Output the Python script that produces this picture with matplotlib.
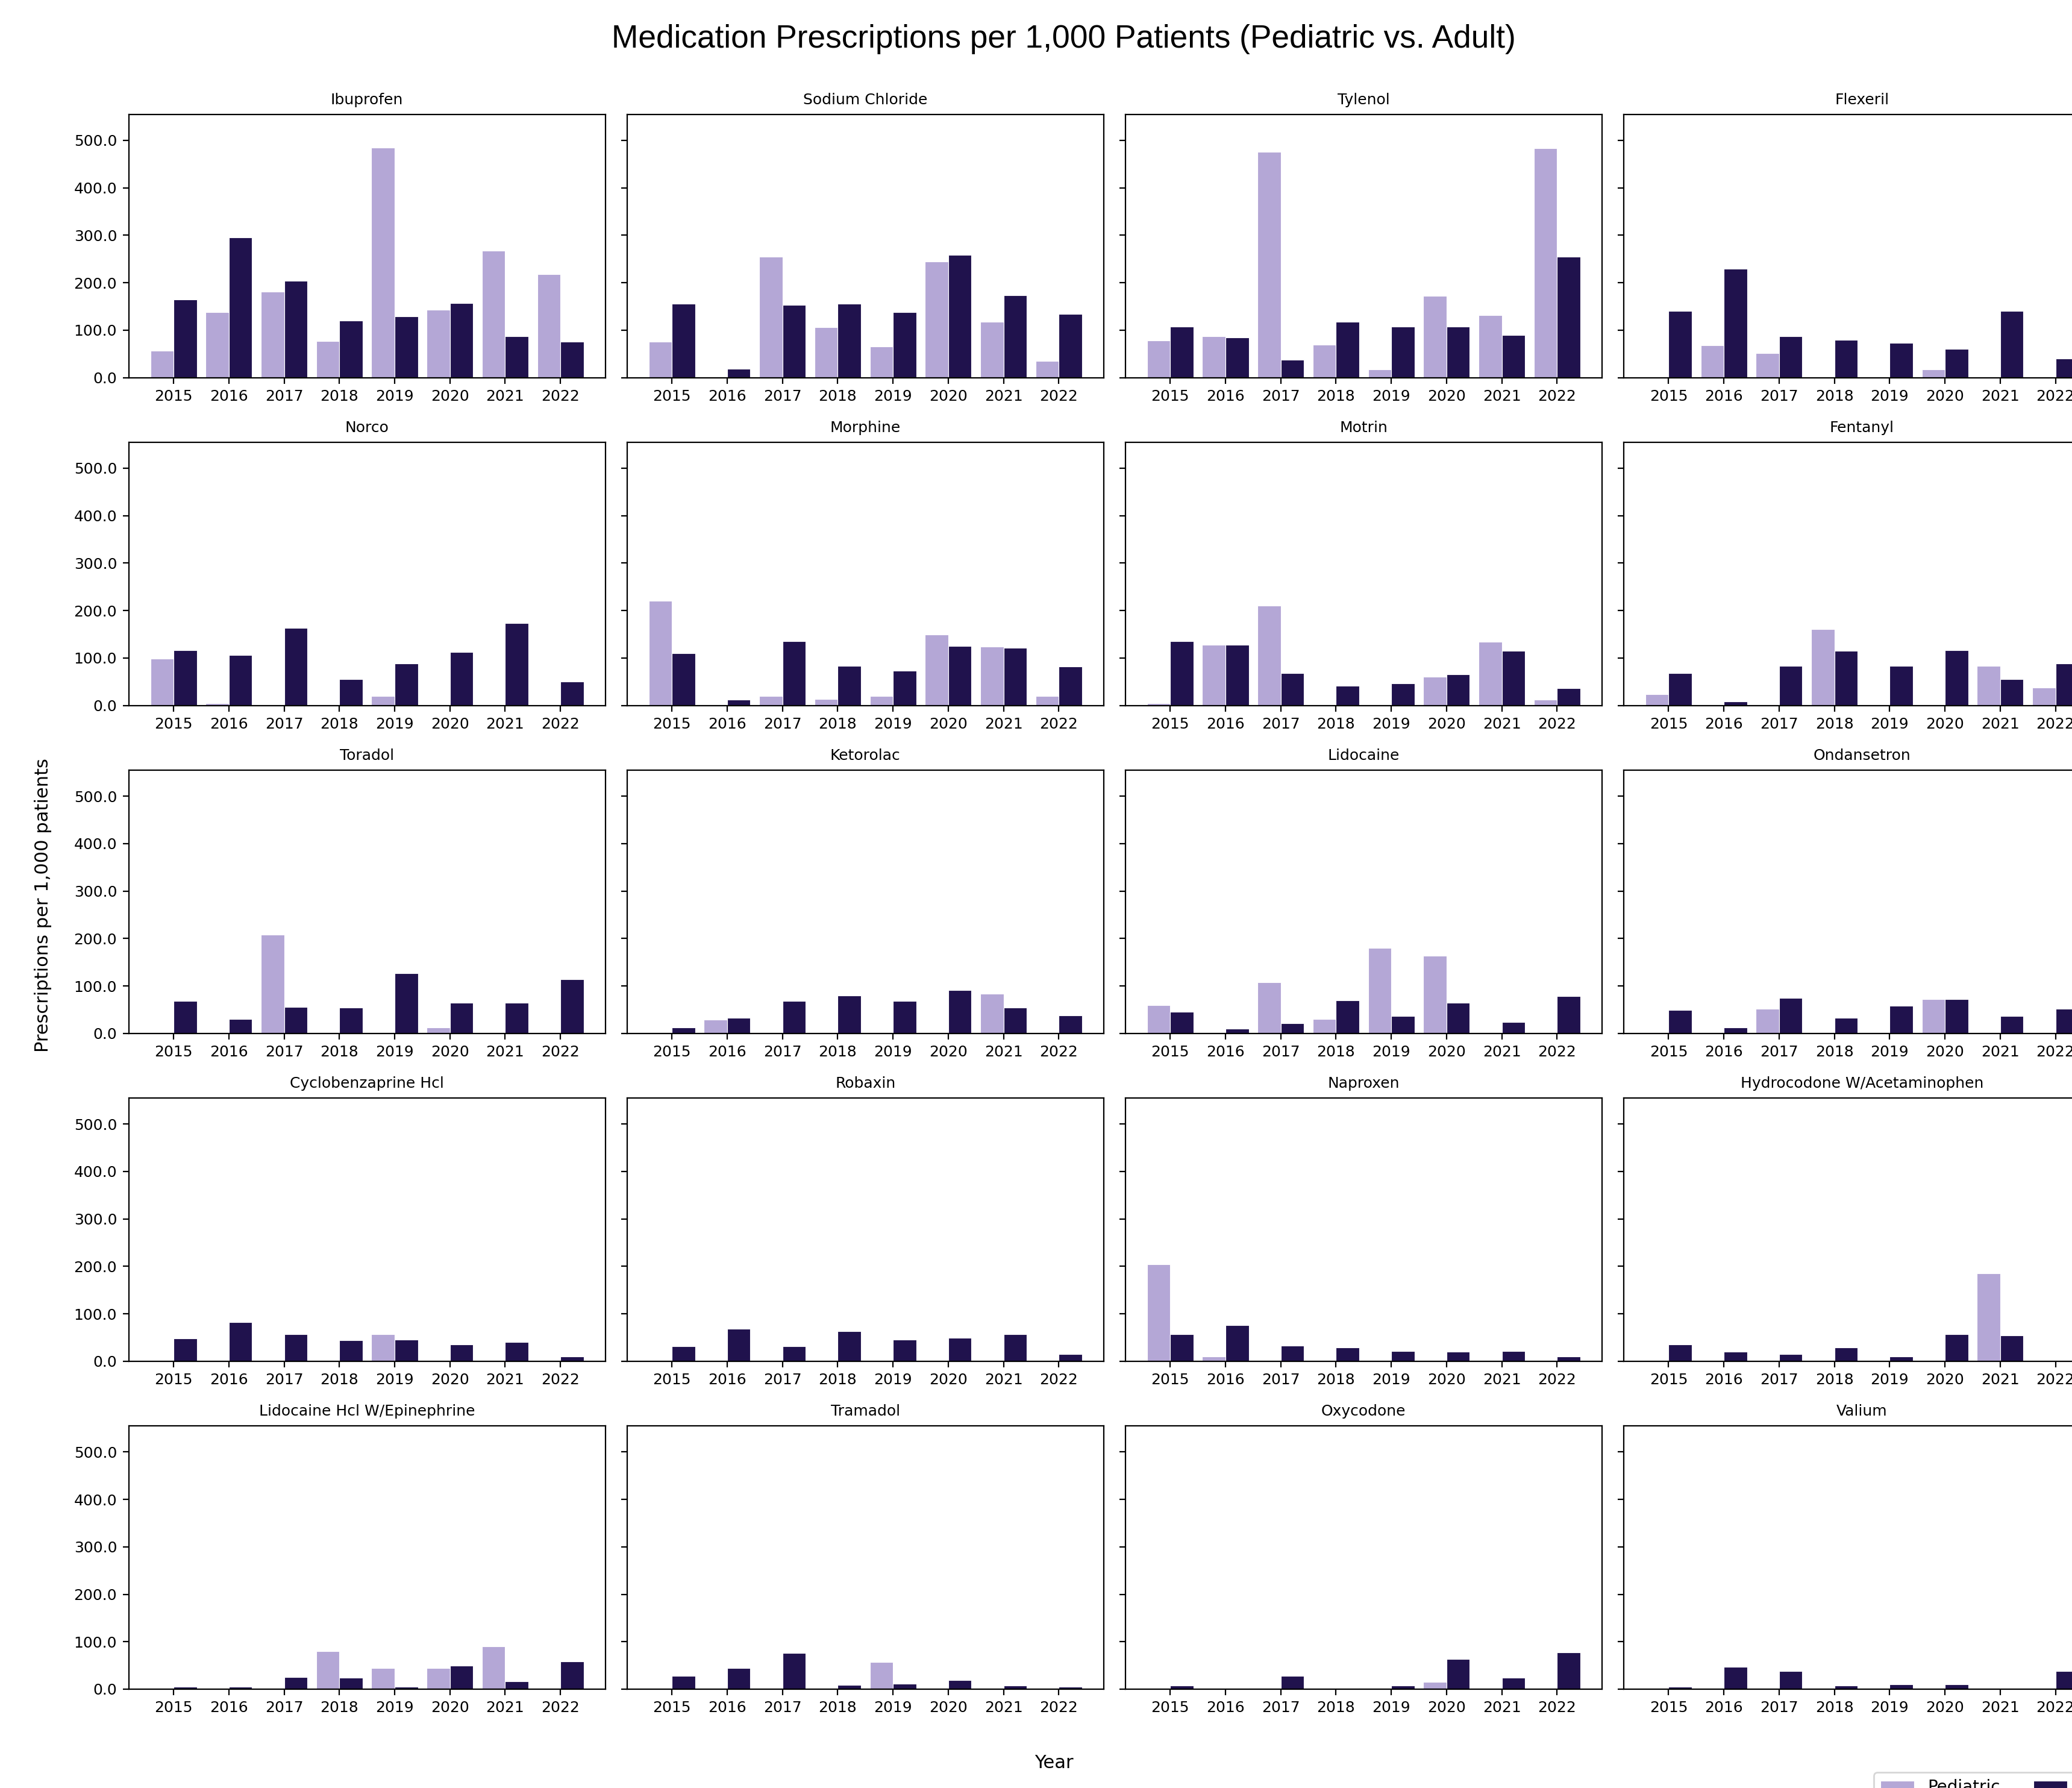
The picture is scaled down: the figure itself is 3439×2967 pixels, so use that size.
import numpy as np
import matplotlib
matplotlib.use("Agg")
import matplotlib.pyplot as plt
from matplotlib.ticker import FormatStrFormatter

# years on the x axis
years = ["2015", "2016", "2017", "2018", "2019", "2020", "2021", "2022"]

medications = [
    "Ibuprofen", "Sodium Chloride", "Tylenol", "Flexeril",
    "Norco", "Morphine", "Motrin", "Fentanyl",
    "Toradol", "Ketorolac", "Lidocaine", "Ondansetron",
    "Cyclobenzaprine Hcl", "Robaxin", "Naproxen", "Hydrocodone W/Acetaminophen",
    "Lidocaine Hcl W/Epinephrine", "Tramadol", "Oxycodone", "Valium",
]

# prescriptions per 1,000 patients, pediatric
pediatric = [
    [57, 138, 181, 77, 485, 143, 267, 218],
    [75, 0, 255, 106, 66, 244, 117, 35],
    [78, 87, 476, 69, 17, 172, 132, 483],
    [0, 68, 52, 0, 0, 17, 0, 0],
    [99, 5, 0, 0, 20, 0, 0, 0],
    [221, 0, 20, 14, 20, 150, 124, 20],
    [5, 128, 210, 0, 0, 61, 134, 12],
    [24, 0, 0, 161, 0, 0, 84, 38],
    [0, 0, 208, 0, 0, 12, 0, 0],
    [0, 29, 0, 0, 0, 0, 84, 0],
    [59, 0, 108, 30, 180, 164, 0, 0],
    [0, 0, 52, 0, 0, 72, 0, 0],
    [0, 0, 0, 0, 57, 0, 0, 0],
    [0, 0, 0, 0, 0, 0, 0, 0],
    [204, 10, 0, 0, 0, 0, 0, 0],
    [0, 0, 0, 0, 0, 0, 185, 0],
    [0, 0, 0, 80, 45, 45, 90, 0],
    [0, 0, 0, 0, 57, 0, 0, 0],
    [0, 0, 0, 0, 0, 15, 0, 0],
    [0, 0, 0, 0, 0, 0, 0, 0],
]

# prescriptions per 1,000 patients, adult
adult = [
    [164, 295, 204, 120, 129, 157, 87, 75],
    [155, 19, 153, 155, 138, 258, 173, 134],
    [107, 85, 38, 117, 107, 107, 89, 255],
    [140, 229, 87, 80, 73, 61, 140, 40],
    [116, 106, 163, 56, 89, 112, 173, 50],
    [110, 12, 135, 84, 73, 125, 122, 82],
    [135, 128, 68, 42, 47, 66, 115, 36],
    [68, 9, 84, 115, 84, 116, 56, 89],
    [68, 30, 56, 54, 127, 65, 65, 114],
    [13, 33, 68, 80, 68, 91, 54, 38],
    [46, 10, 21, 69, 36, 65, 24, 78],
    [49, 12, 75, 33, 58, 72, 36, 52],
    [48, 83, 57, 44, 45, 36, 41, 10],
    [31, 69, 31, 63, 45, 50, 57, 15],
    [57, 76, 33, 29, 21, 20, 21, 10],
    [36, 20, 15, 29, 10, 57, 54, 0],
    [5, 5, 26, 24, 5, 49, 17, 59],
    [28, 45, 76, 9, 12, 19, 7, 5],
    [7, 3, 28, 3, 7, 64, 24, 77],
    [5, 47, 38, 7, 10, 10, 0, 38],
]

ped_color = "#b4a7d6"
adult_color = "#20124d"

W, H, DPI = 3439, 2967, 200
fig, axes = plt.subplots(5, 4, figsize=(W / DPI, H / DPI), dpi=DPI, sharey=True)
# the last column runs past the right edge, as in the original
fig.subplots_adjust(left=213.6 / W, right=3486 / W, top=1 - 189.5 / H,
                    bottom=1 - 2803 / H, wspace=0.0455, hspace=0.245)

x = np.arange(len(years))
w = 0.42
for i, ax in enumerate(axes.flat):
    ax.bar(x - w, pediatric[i], width=w, align="edge", color=ped_color,
           edgecolor="white", linewidth=0.4, label="Pediatric")
    ax.bar(x, adult[i], width=w, align="edge", color=adult_color,
           edgecolor="white", linewidth=0.4, label="Adult")
    ax.set_title(medications[i], fontsize=9)
    ax.set_xticks(x)
    ax.set_xticklabels(years, fontsize=9)
    ax.tick_params(axis="y", labelsize=9)
    ax.yaxis.set_major_formatter(FormatStrFormatter("%.1f"))

axes[0, 0].set_ylim(0, 555)

fig.text(1765 / W, 1 - 65 / H, "Medication Prescriptions per 1,000 Patients (Pediatric vs. Adult)",
         ha="center", va="center", fontsize=19.2, family="Liberation Sans")
fig.text(1749 / W, 1 - 2926 / H, "Year", ha="center", va="center", fontsize=11)
fig.text(72 / W, 1 - 1502 / H, "Prescriptions per 1,000 patients", ha="center", va="center",
         rotation=90, fontsize=11)

# legend sits at the lower right and is clipped by the figure edge, like the reference
handles, labels = axes[0, 0].get_legend_handles_labels()
fig.legend(handles, labels, loc="upper left", bbox_to_anchor=(3110 / W, 1 - 2941 / H),
           ncol=2, fontsize=10, borderaxespad=0)

fig.savefig("out.png", dpi=DPI)
